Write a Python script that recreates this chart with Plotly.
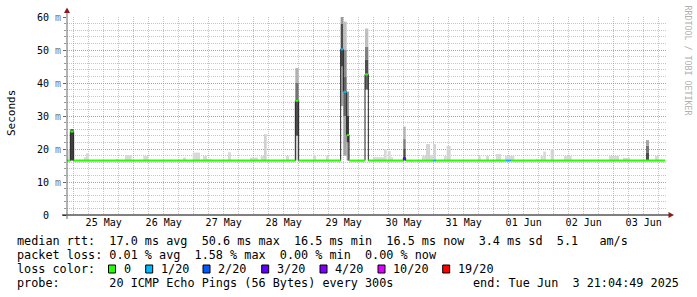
import plotly.graph_objects as go
import pandas as pd

# ---------------- data ----------------
X_START = "2025-05-24 21:20"
X_END = "2025-06-03 21:20"

# median rtt (ms) as step segments, with loss class index
seg_start = ["2025-05-24 21:20", "2025-05-24 22:40", "2025-05-25 00:00", "2025-05-28 16:40",
             "2025-05-28 18:00", "2025-05-29 10:48", "2025-05-29 11:52", "2025-05-29 13:12",
             "2025-05-29 14:08", "2025-05-29 20:32", "2025-05-29 21:52", "2025-05-30 11:51",
             "2025-05-30 12:48", "2025-05-31 00:00", "2025-05-31 00:48", "2025-06-01 04:56",
             "2025-06-01 06:48"]
seg_end = ["2025-05-24 22:40", "2025-05-25 00:00", "2025-05-28 16:40", "2025-05-28 18:00",
           "2025-05-29 10:48", "2025-05-29 11:52", "2025-05-29 13:12", "2025-05-29 14:08",
           "2025-05-29 20:32", "2025-05-29 21:52", "2025-05-30 11:51", "2025-05-30 12:48",
           "2025-05-31 00:00", "2025-05-31 00:48", "2025-06-01 04:56", "2025-06-01 06:48",
           "2025-06-03 20:35"]
seg_median = [16.5, 25.3, 16.5, 34.6, 16.5, 50.2, 37.3, 24.2, 16.5, 42.6, 16.5, 17.2,
              16.5, 16.5, 16.5, 16.5, 16.5]
seg_loss = [0, 0, 0, 0, 0, 1, 1, 0, 0, 0, 0, 3, 0, 1, 0, 1, 0]

loss_labels = ["0", "1/20", "2/20", "3/20", "4/20", "10/20", "19/20"]
loss_colors = ["#26ff00", "#00b8ff", "#0059ff", "#5e00ff", "#7e00ff", "#dd00ff", "#ff0000"]

# smoke (ping spread): time span, low/high rtt in ms, density of pings (0..1)
smoke_start = [
    "2025-05-24 21:20", "2025-05-25 04:08", "2025-05-25 04:56", "2025-05-25 16:56", "2025-05-25 20:32",
    "2025-05-26 03:51", "2025-05-26 19:44", "2025-05-26 23:37", "2025-05-27 03:44", "2025-05-27 05:20",
    "2025-05-27 13:44", "2025-05-27 22:32", "2025-05-28 02:48", "2025-05-28 04:08", "2025-05-28 12:56",
    "2025-05-28 23:51", "2025-05-29 04:56", "2025-05-29 23:44", "2025-05-30 04:08", "2025-05-30 05:36",
    "2025-05-30 06:48", "2025-05-30 19:20", "2025-05-30 20:56", "2025-05-30 22:32", "2025-05-30 23:51",
    "2025-05-31 04:08", "2025-05-31 05:12", "2025-05-31 17:44", "2025-05-31 20:56", "2025-06-01 00:56",
    "2025-06-01 04:32", "2025-06-01 16:56", "2025-06-01 18:48", "2025-06-01 19:51", "2025-06-01 22:48",
    "2025-06-02 04:08", "2025-06-02 22:08", "2025-06-03 03:44", "2025-06-03 16:32",
    "2025-05-24 22:40",
    "2025-05-28 16:40", "2025-05-28 16:40", "2025-05-28 16:40", "2025-05-28 16:40",
    "2025-05-29 10:48", "2025-05-29 10:48", "2025-05-29 10:48",
    "2025-05-29 11:52", "2025-05-29 11:52", "2025-05-29 11:52", "2025-05-29 11:52",
    "2025-05-29 13:12", "2025-05-29 13:12", "2025-05-29 13:12",
    "2025-05-29 20:32", "2025-05-29 20:32", "2025-05-29 20:32", "2025-05-29 20:32",
    "2025-05-30 11:51", "2025-05-30 11:51", "2025-05-30 11:51",
    "2025-06-03 12:56", "2025-06-03 12:56", "2025-06-03 12:56"]
smoke_end = [
    "2025-05-24 22:35", "2025-05-25 04:56", "2025-05-25 06:08", "2025-05-25 18:15", "2025-05-25 23:12",
    "2025-05-26 05:51", "2025-05-26 20:56", "2025-05-27 02:32", "2025-05-27 05:20", "2025-05-27 06:56",
    "2025-05-27 14:56", "2025-05-28 01:44", "2025-05-28 04:08", "2025-05-28 05:12", "2025-05-28 14:08",
    "2025-05-29 00:56", "2025-05-29 06:08", "2025-05-30 04:08", "2025-05-30 05:12", "2025-05-30 06:48",
    "2025-05-30 07:44", "2025-05-30 20:56", "2025-05-30 22:32", "2025-05-30 23:51", "2025-05-31 00:56",
    "2025-05-31 05:12", "2025-05-31 06:48", "2025-05-31 18:48", "2025-05-31 22:08", "2025-06-01 02:56",
    "2025-06-01 08:15", "2025-06-01 18:08", "2025-06-01 19:51", "2025-06-01 20:56", "2025-06-02 00:08",
    "2025-06-02 07:12", "2025-06-03 02:08", "2025-06-03 06:32", "2025-06-03 18:00",
    "2025-05-25 00:00",
    "2025-05-28 18:00", "2025-05-28 18:00", "2025-05-28 18:00", "2025-05-28 18:00",
    "2025-05-29 11:52", "2025-05-29 11:52", "2025-05-29 11:52",
    "2025-05-29 13:12", "2025-05-29 13:12", "2025-05-29 13:12", "2025-05-29 13:12",
    "2025-05-29 14:08", "2025-05-29 14:08", "2025-05-29 14:08",
    "2025-05-29 21:52", "2025-05-29 21:52", "2025-05-29 21:52", "2025-05-29 21:52",
    "2025-05-30 12:48", "2025-05-30 12:48", "2025-05-30 12:48",
    "2025-06-03 14:08", "2025-06-03 14:08", "2025-06-03 14:08"]
smoke_low = [16.5] * 39 + [
    16.5,
    16.5, 24.0, 34.6, 40.0,
    33.0, 45.0, 58.0,
    18.0, 30.0, 42.0, 50.0,
    16.5, 22.0, 30.0,
    38.0, 42.6, 47.0, 51.0,
    16.5, 20.0, 23.0,
    16.5, 19.0, 21.0]
smoke_high = [
    19.8, 17.5, 18.7, 17.0, 18.2, 17.9, 17.4, 18.9, 17.9, 17.0,
    19.0, 17.4, 17.9, 24.5, 17.9, 18.2, 17.9, 17.5, 19.9, 19.4,
    17.5, 17.9, 21.5, 18.2, 21.5, 17.9, 20.9, 17.9, 17.9, 18.5,
    17.9, 17.0, 17.9, 19.2, 20.0, 17.9, 17.9, 17.3, 17.9,
    26.0,
    24.0, 34.6, 40.0, 44.5,
    45.0, 58.0, 60.6,
    30.0, 42.0, 50.0, 58.6,
    22.0, 30.0, 37.4,
    42.6, 47.0, 51.0, 56.5,
    20.0, 23.0, 26.8,
    19.0, 21.0, 22.7]
smoke_density = [
    0.12, 0.15, 0.15, 0.15, 0.15, 0.15, 0.15, 0.15, 0.15, 0.15,
    0.15, 0.15, 0.15, 0.18, 0.15, 0.15, 0.15, 0.15, 0.15, 0.15,
    0.15, 0.15, 0.17, 0.15, 0.17, 0.15, 0.17, 0.15, 0.15, 0.15,
    0.15, 0.15, 0.15, 0.15, 0.17, 0.15, 0.15, 0.15, 0.15,
    0.75,
    0.20, 0.70, 0.55, 0.30,
    0.35, 0.70, 0.40,
    0.35, 0.60, 0.45, 0.25,
    0.40, 0.75, 0.40,
    0.60, 0.70, 0.50, 0.25,
    0.70, 0.50, 0.30,
    0.70, 0.55, 0.35]

day_label_times = ["2025-05-25 12:00", "2025-05-26 12:00", "2025-05-27 12:00", "2025-05-28 12:00",
                   "2025-05-29 12:00", "2025-05-30 12:00", "2025-05-31 12:00", "2025-06-01 12:00",
                   "2025-06-02 12:00", "2025-06-03 12:00"]
day_labels = ["25 May", "26 May", "27 May", "28 May", "29 May", "30 May", "31 May",
              "01 Jun", "02 Jun", "03 Jun"]

y_ticks = [0, 10, 20, 30, 40, 50, 60]

rtt_stats = [17.0, 50.6, 16.5, 16.5, 3.4]   # avg, max, min, now, sd
rtt_am = 5.1
loss_stats = [0.01, 1.58, 0.00, 0.00]       # avg, max, min, now
probe_text = "20 ICMP Echo Pings (56 Bytes) every 300s"
end_text = "end: Tue Jun  3 21:04:49 2025"

# ---------------- figure ----------------
MONO = "DejaVu Sans Mono"
L, T, W, H = 67, 17, 600, 198
FIG_W, FIG_H = 697, 297


def pxx(x):
    return (x - L) / W


def pxy(y):
    return (T + H - y) / H


fig = go.Figure()

s0 = pd.to_datetime(smoke_start)
s1 = pd.to_datetime(smoke_end)
mids = s0 + (s1 - s0) / 2
widths = [(b - a).total_seconds() * 1000 for a, b in zip(s0, s1)]
grays = []
for d in smoke_density:
    g = int(round(255 * (1 - d)))
    grays.append(f"rgb({g},{g},{g})")
fig.add_trace(go.Bar(
    x=mids, y=[h - l for h, l in zip(smoke_high, smoke_low)], base=smoke_low,
    width=widths, marker=dict(color=grays, line=dict(width=0)), hoverinfo="skip"))

# thin dark median line
mx = list(seg_start) + [seg_end[-1]]
my = list(seg_median) + [seg_median[-1]]
fig.add_trace(go.Scatter(x=mx, y=my, mode="lines",
                         line=dict(color="#202020", width=1, shape="hv"), hoverinfo="skip"))

# loss coloured median bands
for li, col in enumerate(loss_colors):
    xs, ys = [], []
    for a, b, m, l in zip(seg_start, seg_end, seg_median, seg_loss):
        if l == li:
            xs += [a, b, None]
            ys += [m, m, None]
    if xs:
        fig.add_trace(go.Scatter(x=xs, y=ys, mode="lines",
                                 line=dict(color=col, width=2), hoverinfo="skip"))

# dummy trace for label axis
fig.add_trace(go.Scatter(x=[X_START, X_END], y=[None, None], xaxis="x2", mode="lines",
                         showlegend=False, hoverinfo="skip"))

MGRID = "rgba(225,110,110,0.6)"
GRID = "rgba(150,150,150,0.55)"

y_text = []
for v in y_ticks:
    if v == 0:
        y_text.append("0\u00a0\u00a0")
    else:
        y_text.append(f"{v}\u00a0<span style='color:rgb(120,120,120)'>m</span>")

fig.update_layout(
    width=FIG_W, height=FIG_H,
    margin=dict(l=L, r=FIG_W - L - W, t=T, b=FIG_H - T - H, pad=0),
    paper_bgcolor="white", plot_bgcolor="white",
    showlegend=False, barmode="overlay",
    xaxis=dict(type="date", range=[X_START, X_END], tick0="2025-05-25", dtick=86400000,
               showgrid=True, gridcolor=MGRID, griddash="1px,1px", gridwidth=1,
               showticklabels=False, ticks="", zeroline=False, showline=False, fixedrange=True,
               minor=dict(tick0="2025-05-25", dtick=21600000, showgrid=True, gridcolor=GRID,
                          griddash="1px,1px", gridwidth=1)),
    xaxis2=dict(type="date", overlaying="x", anchor="y", side="bottom",
                range=[X_START, X_END], tickmode="array", tickvals=day_label_times,
                ticktext=day_labels, showgrid=False, zeroline=False, showline=False,
                ticks="", tickfont=dict(family=MONO, size=10, color="black"), fixedrange=True),
    yaxis=dict(range=[0, 60], tickmode="array", tickvals=y_ticks, ticktext=y_text,
               showgrid=True, gridcolor=MGRID, griddash="1px,1px", gridwidth=1,
               zeroline=False, showline=False, ticks="outside", ticklen=3, tickcolor="#666",
               tickfont=dict(family=MONO, size=10, color="black"), fixedrange=True,
               minor=dict(dtick=2, showgrid=True, gridcolor=GRID, griddash="1px,1px",
                          gridwidth=1, ticks="outside", ticklen=2, tickcolor="#999")),
)

shapes = []
# axes
shapes.append(dict(type="line", xref="paper", yref="paper", x0=pxx(62), x1=pxx(669),
                   y0=pxy(215), y1=pxy(215), line=dict(color="black", width=1)))
shapes.append(dict(type="line", xref="paper", yref="paper", x0=pxx(67), x1=pxx(67),
                   y0=pxy(219), y1=pxy(11), line=dict(color="#666", width=1)))
# arrows
shapes.append(dict(type="path", xref="paper", yref="paper",
                   path=f"M {pxx(64)} {pxy(13)} L {pxx(70)} {pxy(13)} L {pxx(67)} {pxy(7.5)} Z",
                   fillcolor="#8b1a1a", line=dict(width=0)))
shapes.append(dict(type="path", xref="paper", yref="paper",
                   path=f"M {pxx(668.5)} {pxy(212)} L {pxx(668.5)} {pxy(218)} L {pxx(674)} {pxy(215)} Z",
                   fillcolor="#8b1a1a", line=dict(width=0)))

annotations = []


def txt(x, y, s, size=11.8, anchor="left", color="black", angle=0):
    annotations.append(dict(xref="paper", yref="paper", x=pxx(x), y=pxy(y), text=s,
                            showarrow=False, xanchor=anchor, yanchor="middle",
                            font=dict(family=MONO, size=size, color=color),
                            textangle=angle, borderpad=0))


def nb(s):
    return s.replace(" ", "\u00a0")


line1 = (f"median rtt:  {rtt_stats[0]:.1f} ms avg  {rtt_stats[1]:.1f} ms max  "
         f"{rtt_stats[2]:.1f} ms min  {rtt_stats[3]:.1f} ms now  {rtt_stats[4]:.1f} ms sd  "
         f"{rtt_am:.1f}   am/s")
line2 = (f"packet loss: {loss_stats[0]:.2f} % avg  {loss_stats[1]:.2f} % max  "
         f"{loss_stats[2]:.2f} % min  {loss_stats[3]:.2f} % now")
txt(16, 241, nb(line1))
txt(16, 255, nb(line2))
txt(16, 269, nb("loss color:"))
txt(16, 283, nb("probe:       " + probe_text))
txt(680, 283, nb(end_text), anchor="right")

swatch_x = [108.5, 145.7, 203, 261.7, 320, 378, 442.7]
label_x = [123, 160, 217, 275.7, 334, 392, 456.7]
for sx, lx, lab, col in zip(swatch_x, label_x, loss_labels, loss_colors):
    shapes.append(dict(type="rect", xref="paper", yref="paper", x0=pxx(sx), x1=pxx(sx + 7),
                       y0=pxy(273), y1=pxy(265), fillcolor=col, line=dict(color="black", width=1)))
    txt(lx, 269, nb(lab))

txt(11, 113, "Seconds", size=11, anchor="center", angle=-90)
txt(687.5, 60, nb("RRDTOOL / TOBI OETIKER"), size=8.3, anchor="center", color="#b0b0b0", angle=90)

fig.update_layout(shapes=shapes, annotations=annotations)
fig.write_html("out.html")
